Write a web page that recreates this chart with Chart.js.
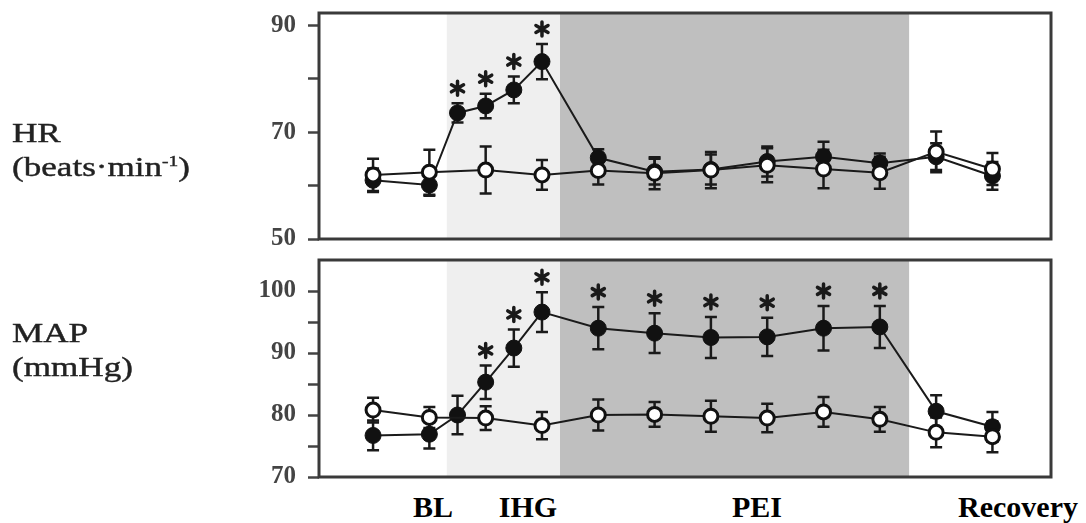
<!DOCTYPE html>
<html>
<head>
<meta charset="utf-8">
<script src="https://cdn.jsdelivr.net/npm/chart.js@4/dist/chart.umd.min.js"></script>
<style>
  body { margin: 0; background: #fff; width: 1086px; height: 523px; position: relative; overflow: hidden; }
  canvas { position: absolute; left: 0; }
  .ylab { position: absolute; left: 12px; font: 27px/34px "Liberation Serif", serif; color: #222;
          transform: scaleX(1.3); transform-origin: left top; -webkit-text-stroke: 0.4px #222; white-space: nowrap; }
  .ylab sup { font-size: 15px; line-height: 0; }
  .phase { position: absolute; top: 492px; font: bold 30px/30px "Liberation Serif", serif; color: #000; transform: translateX(-50%); }
</style>
</head>
<body>
<canvas id="hrChart" width="1086" height="250" style="top:0"></canvas>
<canvas id="mapChart" width="1086" height="240" style="top:250px"></canvas>

<div class="ylab" style="top:116px">HR<br>(beats·min<sup>-1</sup>)</div>
<div class="ylab" style="top:316px">MAP<br>(mmHg)</div>

<div class="phase" style="left:433px">BL</div>
<div class="phase" style="left:528px">IHG</div>
<div class="phase" style="left:757px">PEI</div>
<div class="phase" style="left:1018px">Recovery</div>

<script>
// time points (sample index); the handgrip group was sampled twice as often during IHG
const filledX = [0, 1, 1.5, 2, 2.5, 3, 4, 5, 6, 7, 8, 9, 10, 11];
const openX = [0, 1, 2, 3, 4, 5, 6, 7, 8, 9, 10, 11];
const xRange = [-0.96, 12.04];
// IHG starts, PEI starts, recovery starts
const phaseEdges = [1.31, 3.32, 9.52];

// heart rate
const hrFilled = [61.0, 60.1, 73.6, 74.9, 77.9, 83.2, 65.2, 62.6, 63.0, 64.5, 65.4, 64.2, 65.4, 61.8];
const hrFilledErr = [2.2, 2.0, 1.8, 2.3, 2.5, 3.3, 1.6, 2.4, 2.8, 2.8, 2.8, 1.8, 2.5, 2.6];
const hrOpen = [62.0, 62.5, 62.9, 62.0, 62.8, 62.3, 62.9, 63.8, 63.1, 62.4, 66.3, 63.1];
const hrOpenErr = [3.0, 4.2, 4.4, 2.8, 2.6, 3.0, 3.4, 3.2, 3.6, 3.0, 3.8, 3.0];
const hrStars = [1.5, 2, 2.5, 3];
const hrTicks = [50, 60, 70, 80, 90];
const hrLabels = [50, 70, 90];

// mean arterial pressure
const mapFilled = [76.7, 76.9, 80.0, 85.3, 90.8, 96.6, 94.0, 93.2, 92.5, 92.6, 94.0, 94.2, 80.6, 78.1];
const mapFilledErr = [2.4, 2.3, 3.1, 2.7, 3.0, 3.2, 3.4, 3.2, 3.3, 3.1, 3.6, 3.4, 2.6, 2.4];
const mapOpen = [80.8, 79.6, 79.5, 78.3, 80.0, 80.1, 79.8, 79.5, 80.5, 79.3, 77.2, 76.5];
const mapOpenErr = [2.0, 1.7, 1.9, 2.2, 2.5, 2.0, 2.5, 2.3, 2.4, 2.0, 2.4, 2.5];
const mapStars = [2, 2.5, 3, 4, 5, 6, 7, 8, 9];
const mapTicks = [70, 75, 80, 85, 90, 95, 100];
const mapLabels = [70, 80, 90, 100];

const INK = '#1a1a1a';

/**
 * 阴影区、误差线、星号、外框
 */
const decorPlugin = {
  id: 'decor',
  beforeDatasetsDraw(chart) {
    const { ctx, chartArea: a, scales: { x, y } } = chart;
    const e = phaseEdges.map(v => x.getPixelForValue(v));
    ctx.save();
    ctx.fillStyle = '#efefef';
    ctx.fillRect(e[0], a.top, e[1] - e[0], a.bottom - a.top);
    ctx.fillStyle = '#bfbfbf';
    ctx.fillRect(e[1], a.top, e[2] - e[1], a.bottom - a.top);

    ctx.strokeStyle = INK;
    ctx.lineWidth = 2.5;
    chart.data.datasets.forEach(ds => {
      ds.data.forEach((p, i) => {
        const px = x.getPixelForValue(p.x);
        const top = y.getPixelForValue(p.y + ds.errors[i]);
        const bot = y.getPixelForValue(p.y - ds.errors[i]);
        ctx.beginPath();
        ctx.moveTo(px, top); ctx.lineTo(px, bot);
        ctx.moveTo(px - 6, top); ctx.lineTo(px + 6, top);
        ctx.moveTo(px - 6, bot); ctx.lineTo(px + 6, bot);
        ctx.stroke();
      });
    });
    ctx.restore();
  },
  afterDatasetsDraw(chart) {
    const { ctx, chartArea: a, scales: { x, y } } = chart;
    const filled = chart.data.datasets[1];
    ctx.save();
    ctx.strokeStyle = INK;
    ctx.lineWidth = 3.5;
    ctx.lineCap = 'round';
    (filled.stars || []).forEach(sx => {
      const i = filled.data.findIndex(p => p.x === sx);
      const p = filled.data[i];
      const cx = x.getPixelForValue(p.x);
      const cy = y.getPixelForValue(p.y + filled.errors[i]) - 15;
      ctx.beginPath();
      for (let k = 0; k < 3; k++) {
        const ang = Math.PI / 2 + k * Math.PI / 3;
        ctx.moveTo(cx + Math.cos(ang) * 7, cy - Math.sin(ang) * 7);
        ctx.lineTo(cx - Math.cos(ang) * 7, cy + Math.sin(ang) * 7);
      }
      ctx.stroke();
    });

    ctx.lineCap = 'butt';
    ctx.strokeStyle = '#3a3a3a';
    ctx.lineWidth = 3;
    ctx.strokeRect(a.left, a.top, a.right - a.left, a.bottom - a.top);
    ctx.restore();
  }
};

function buildPanel(canvasId, cfg) {
  const ctx = document.getElementById(canvasId).getContext('2d');
  return new Chart(ctx, {
    type: 'line',
    data: {
      datasets: [
        {
          label: 'control',
          data: openX.map((x, i) => ({ x, y: cfg.open[i] })),
          errors: cfg.openErr,
          order: 0,
          borderColor: INK,
          borderWidth: 2,
          pointRadius: 7,
          pointBackgroundColor: '#fff',
          pointBorderColor: '#111',
          pointBorderWidth: 3
        },
        {
          label: 'handgrip',
          data: filledX.map((x, i) => ({ x, y: cfg.filled[i] })),
          errors: cfg.filledErr,
          stars: cfg.stars,
          order: 1,
          borderColor: INK,
          borderWidth: 2,
          pointRadius: 8,
          pointBackgroundColor: '#111',
          pointBorderColor: '#111',
          pointBorderWidth: 1
        }
      ]
    },
    options: {
      responsive: false,
      animation: false,
      layout: { padding: { left: 259, right: 35, top: cfg.padTop, bottom: cfg.padBottom } },
      plugins: { legend: { display: false }, tooltip: { enabled: false } },
      scales: {
        x: { type: 'linear', display: false, min: xRange[0], max: xRange[1] },
        y: {
          min: cfg.min,
          max: cfg.max,
          afterBuildTicks: s => { s.ticks = cfg.ticks.map(v => ({ value: v })); },
          afterFit: s => { s.width = 60; s.paddingTop = 0; s.paddingBottom = 0; },
          ticks: {
            autoSkip: false,
            padding: 12,
            color: '#444',
            font: { family: '"Liberation Serif", serif', size: 25, weight: 'bold' },
            callback: v => cfg.labels.includes(v) ? String(v) : ''
          },
          grid: { drawOnChartArea: false, tickLength: 11, tickWidth: 2.5, tickColor: '#444' },
          border: { display: false }
        }
      }
    },
    plugins: [decorPlugin]
  });
}

buildPanel('hrChart', {
  filled: hrFilled, filledErr: hrFilledErr, open: hrOpen, openErr: hrOpenErr,
  stars: hrStars, ticks: hrTicks, labels: hrLabels,
  min: 50, max: 92.3, padTop: 13, padBottom: 11
});

buildPanel('mapChart', {
  filled: mapFilled, filledErr: mapFilledErr, open: mapOpen, openErr: mapOpenErr,
  stars: mapStars, ticks: mapTicks, labels: mapLabels,
  min: 70, max: 105, padTop: 10, padBottom: 13
});
</script>
</body>
</html>
